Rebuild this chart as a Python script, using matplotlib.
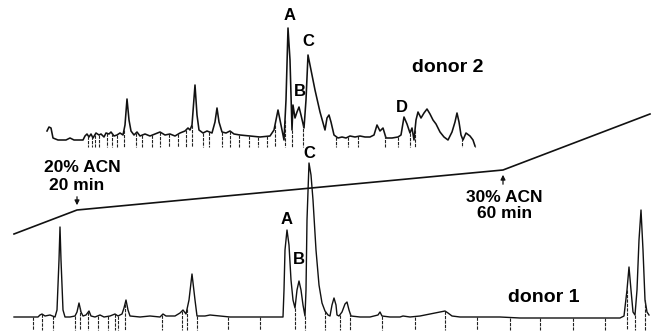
import numpy as np
import matplotlib
matplotlib.use("Agg")
import matplotlib.pyplot as plt

# ---- data (x = retention position, y = detector row; larger y = lower) ----
donor1_x = [14, 30, 38, 40, 42, 45, 50, 55, 57, 59, 60, 61, 63, 65, 70, 75, 77, 79, 81, 83, 86, 89, 91, 95,
            100, 104, 110, 115, 118, 122, 124, 126, 128, 130, 140, 150, 160, 163, 166, 175, 180, 183, 186,
            189, 192, 195, 197, 205, 210, 220, 230, 250, 260, 270, 283, 284, 285, 287, 289, 291, 293, 295,
            297, 299, 301, 303, 305, 306, 307, 309, 311, 313, 316, 319, 322, 325, 328, 330, 332, 334, 336,
            337, 339, 342, 345, 347, 349, 351, 360, 370, 378, 380, 382, 390, 400, 403, 410, 420, 430, 440,
            445, 448, 452, 460, 480, 500, 520, 560, 600, 620, 624, 627, 629, 631, 633, 635, 637, 639, 641,
            643, 645, 647, 649]
donor1_y = [317, 317, 317, 315, 314, 316, 315, 317, 310, 260, 227, 260, 310, 317, 317, 316, 312, 303, 312, 316,
            315, 311, 316, 317, 315, 317, 316, 314, 316, 314, 308, 300, 310, 316, 317, 316, 317, 314, 316,
            316, 313, 310, 314, 300, 274, 300, 316, 316, 315, 316, 317, 317, 317, 317, 317, 290, 250, 230,
            245, 280, 300, 308, 290, 281, 290, 305, 316, 290, 220, 163, 175, 200, 250, 285, 303, 311, 315,
            316, 305, 298, 305, 315, 316, 312, 304, 302, 310, 316, 317, 317, 315, 312, 316, 317, 317, 316,
            317, 316, 314, 312, 311, 313, 316, 317, 317, 317, 318, 318, 318, 318, 316, 290, 267, 290, 312,
            315, 290, 240, 210, 250, 300, 312, 315]

donor2_x = [47, 49, 51, 53, 58, 66, 70, 74, 83, 85, 87, 89, 91, 93, 96, 99, 101, 104, 106, 109, 111, 114, 117,
            120, 123, 125, 127, 129, 131, 134, 137, 140, 145, 150, 155, 160, 165, 170, 175, 180, 185, 188,
            190, 192, 195, 197, 199, 203, 207, 212, 215, 217, 219, 222, 226, 230, 234, 240, 250, 260, 270,
            274, 278, 281, 284, 286, 288, 290, 292, 293, 295, 297, 299, 301, 304, 306, 308, 311, 315, 320,
            325, 327, 329, 331, 334, 338, 342, 346, 350, 355, 360, 365, 370, 374, 377, 380, 383, 386, 392,
            398, 401, 404, 407, 410, 412, 414, 416, 418, 421, 424, 427, 430, 433, 436, 440, 444, 448, 452,
            455, 457, 459, 461, 463, 466, 470, 473, 475]
donor2_y = [131, 127, 128, 138, 140, 140, 138, 140, 140, 136, 134, 137, 134, 138, 133, 135, 134, 137, 133, 134,
            132, 136, 135, 133, 135, 125, 99, 120, 131, 135, 132, 136, 134, 136, 134, 132, 135, 134, 136,
            133, 131, 128, 130, 125, 85, 115, 130, 133, 131, 133, 122, 108, 122, 132, 133, 131, 134, 135,
            136, 137, 136, 130, 110, 125, 140, 100, 28, 60, 130, 105, 118, 112, 107, 115, 128, 100, 55, 70,
            90, 112, 130, 118, 115, 122, 135, 138, 137, 138, 136, 137, 136, 137, 137, 135, 125, 131, 128,
            138, 138, 137, 135, 117, 124, 133, 128, 140, 120, 112, 118, 113, 109, 114, 120, 124, 132, 137,
            140, 132, 122, 113, 122, 135, 140, 133, 136, 140, 146]

donor1_marks = [33, 42, 53, 75, 80, 88, 98, 108, 115, 118, 125, 162, 182, 187, 197, 228, 260, 295, 305, 325,
                340, 350, 382, 415, 445, 477, 510, 540, 573, 605, 627, 635, 645]
donor2_marks = [88, 92, 95, 99, 107, 112, 117, 124, 136, 142, 152, 160, 169, 178, 186, 192, 203, 209, 222,
                230, 239, 249, 258, 267, 275, 285, 292, 303, 336, 348, 358, 385, 398, 410, 415, 462, 475]

gradient_x = [14, 77, 503, 650]
gradient_y = [234, 210, 170, 114]

peak_labels = ["A", "B", "C", "A", "B", "C", "D"]
peak_label_x = [290, 300, 308, 287, 299, 309, 402]
peak_label_y = [16, 91, 41, 219, 259, 153, 108]

# ---- figure ----
plt.rcParams['font.family'] = ['Liberation Sans', 'DejaVu Sans']
fig = plt.figure(figsize=(6.52, 3.32), dpi=100)
ax = fig.add_axes([0, 0, 1, 1])
ax.set_xlim(0, 652)
ax.set_ylim(332, 0)
ax.axis('off')

lc = '#111111'
ax.plot(donor1_x, donor1_y, color=lc, lw=1.0)
ax.plot(donor2_x, donor2_y, color=lc, lw=1.15)
ax.plot(gradient_x, gradient_y, color=lc, lw=1.2)

m1_top = np.interp(donor1_marks, donor1_x, donor1_y)
ax.vlines(donor1_marks, m1_top, 330, colors='#222222', lw=0.8, linestyles=(0, (3, 1)))
m2_top = np.interp(donor2_marks, donor2_x, donor2_y)
ax.vlines(donor2_marks, m2_top, 147, colors='#222222', lw=0.8, linestyles=(0, (3, 1)))

for lab, x, y in zip(peak_labels, peak_label_x, peak_label_y):
    ax.text(x, y, lab, ha='center', va='center', fontsize=12, fontweight='bold')

ax.text(448, 68, "donor 2", ha='center', va='center', fontsize=14, fontweight='bold')
ax.text(544, 297, "donor 1", ha='center', va='center', fontsize=14, fontweight='bold')

ax.text(82, 167, "20% ACN", ha='center', va='center', fontsize=12.5, fontweight='bold')
ax.text(77, 185, "20 min", ha='center', va='center', fontsize=12.5, fontweight='bold')
ax.text(504, 197, "30% ACN", ha='center', va='center', fontsize=12.5, fontweight='bold')
ax.text(505, 213, "60 min", ha='center', va='center', fontsize=12.5, fontweight='bold')

ax.annotate("", xy=(gradient_x[1], gradient_y[1] - 2), xytext=(gradient_x[1], 194),
            arrowprops=dict(arrowstyle='-|>', color=lc, lw=0.9, mutation_scale=7))
ax.annotate("", xy=(gradient_x[2], gradient_y[2] + 2), xytext=(gradient_x[2], 187),
            arrowprops=dict(arrowstyle='-|>', color=lc, lw=0.9, mutation_scale=7))

fig.savefig("out.png", dpi=100)
